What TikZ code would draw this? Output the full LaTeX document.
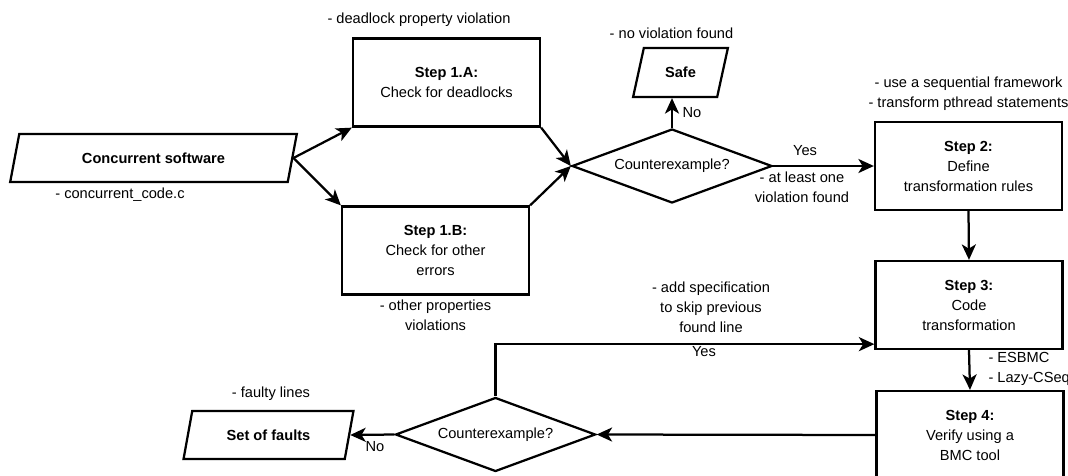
\documentclass[tikz,border=0pt]{standalone}
\usepackage{fontspec}
\setmainfont{Liberation Sans}
\usetikzlibrary{shapes.geometric,arrows.meta}
\tikzset{every node/.style={align=center,inner sep=1pt,font=\fontsize{10.4}{14.2}\selectfont}}
\tikzset{every path/.style={->,>={Stealth[length=11pt,width=10pt,inset=3pt]}}}
\tikzset{box/.style={rectangle,draw,minimum width=4.675cm,minimum height=2.2cm}}
\tikzset{io/.style={trapezium,draw,trapezium left angle=70,trapezium right angle=110,trapezium stretches=true,minimum height=1.2cm,font=\fontsize{10.4}{14.2}\selectfont\bfseries}}
\tikzset{dec/.style={diamond,draw,aspect=2.7,inner sep=0pt,minimum width=5cm,minimum height=1.85cm}}

\begin{document}
\begin{tikzpicture}[x=0.025cm,y=-0.025cm,line width=1.6pt]
\useasboundingbox (0,0) rectangle (1068,475);
\node[io,minimum width=7.175cm](soft) at (153.5,158) {Concurrent software};
\node[io,minimum width=2.375cm,minimum height=1.225cm](safe) at (680.5,72.5) {Safe};
\node[io,minimum width=4.275cm](faults) at (268.5,435) {Set of faults};
\node[box](s1a) at (446.5,82.5) {\textbf{Step 1.A:}\\Check for deadlocks};
\node[box](s1b) at (435.5,250.5) {\textbf{Step 1.B:}\\Check for other\\errors};
\node[box](s2) at (968.5,166) {\textbf{Step 2:}\\Define\\transformation rules};
\node[box](s3) at (969,305) {\textbf{Step 3:}\\Code\\transformation};
\node[box](s4) at (970,435) {\textbf{Step 4:}\\Verify using a\\BMC tool};
\node[dec](d1) at (672,166) {Counterexample?};
\node[dec](d2) at (495.5,434.5) {Counterexample?};

% notes
\node(n1a) at (419,20) {- deadlock property violation};
\node(nsafe) at (671.5,33) {- no violation found};
\node(nsoft) at (120,195) {- concurrent\_code.c};
\node(ns2) at (968.5,94) {- use a sequential framework\\- transform pthread statements};
\node(nyes1) at (805,151) {Yes};
\node(nviol) at (802,187) {- at least one\\violation found};
\node(nno1) at (692,113) {No};
\node(n1b) at (435.5,315) {- other properties\\violations};
\node(nspec) at (711,307) {- add specification\\to skip previous\\found line};
\node(nyes2) at (704,352) {Yes};
\node[anchor=west,align=left](nbmc) at (986,369) {- ESBMC\\- Lazy-CSeq};
\node(nno2) at (375,447) {No};
\node(nfaults) at (271,394) {- faulty lines};

\foreach \s/\t in {soft.east/s1a.south west,soft.east/s1b.north west,s1a.south east/d1.west,s1b.north east/d1.west,d1.east/s2.west,s2.south/s3.north,s3.south/s4.north,s4.west/d2.east,d2.west/faults.east}
  \draw (\s) -- (\t);

\draw (d1.north) -- (d1.north |- safe.south);
\draw (d2.north) |- ([yshift=0.15cm]s3.south west);
\end{tikzpicture}
\end{document}
